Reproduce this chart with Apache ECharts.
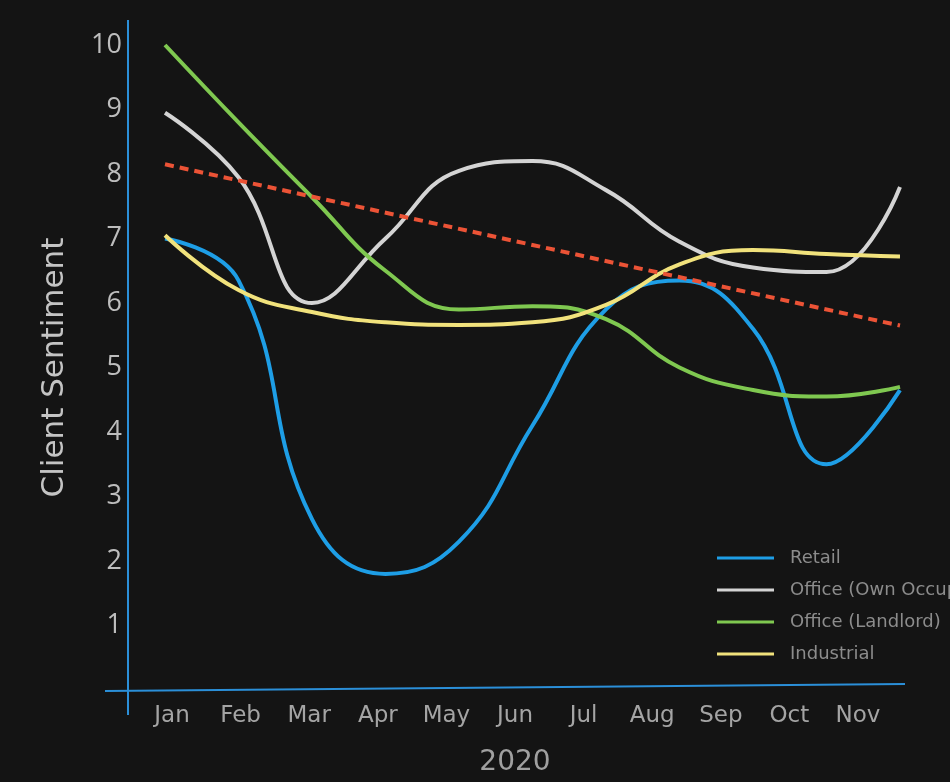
<!DOCTYPE html>
<html>
<head>
<meta charset="utf-8">
<style>
  html, body { margin: 0; padding: 0; background: #141414; }
  #chart { width: 950px; height: 782px; }
</style>
<script src="https://cdn.jsdelivr.net/npm/echarts@6/dist/echarts.min.js"></script>
</head>
<body>
<div id="chart"></div>
<script>
// Monthly client sentiment scores, 2020
const months = ['Jan', 'Feb', 'Mar', 'Apr', 'May', 'Jun', 'Jul', 'Aug', 'Sep', 'Oct', 'Nov'];
const yTicks = [0, 1, 2, 3, 4, 5, 6, 7, 8, 9, 10];

const retail         = [7.0, 6.35, 2.65, 1.8, 2.3, 4.1, 5.9, 6.35, 5.6, 3.5, 4.65];
const officeOwnOcc   = [8.95, 7.95, 6.0, 7.0, 8.05, 8.2, 7.75, 6.95, 6.55, 6.48, 7.8];
const officeLandlord = [10.0, 8.8, 7.64, 6.5, 5.9, 5.95, 5.75, 5.0, 4.65, 4.55, 4.7];
const industrial     = [7.05, 6.2, 5.86, 5.7, 5.66, 5.7, 5.97, 6.6, 6.82, 6.76, 6.72];
// Trend line: start and end values only
const trend          = [8.15, null, null, null, null, null, null, null, null, null, 5.65];

const seriesNames = ['Retail', 'Office (Own Occupier)', 'Office (Landlord)', 'Industrial'];
const seriesData  = [retail, officeOwnOcc, officeLandlord, industrial];
const seriesColors = ['#1e9ee6', '#d4d4d4', '#7fc850', '#f1e27c'];

const axisBlue = '#2b8fd8';
const labelFont = '"DejaVu Sans", "Open Sans", sans-serif';
const tickFont = '"Open Sans", "Noto Sans", sans-serif';

const chart = echarts.init(document.getElementById('chart'), null, { renderer: 'canvas' });

const lines = seriesNames.map((name, i) => ({
  name: name,
  type: 'line',
  xAxisIndex: 0,
  yAxisIndex: 0,
  smooth: 0.45,
  showSymbol: false,
  symbol: 'none',
  data: seriesData[i],
  lineStyle: { color: seriesColors[i], width: 4 },
  itemStyle: { color: seriesColors[i] },
  z: 3 + i
}));

lines.push({
  name: 'Trend',
  type: 'line',
  xAxisIndex: 0,
  yAxisIndex: 0,
  connectNulls: true,
  showSymbol: false,
  symbol: 'none',
  data: trend,
  lineStyle: { color: '#ec5336', width: 4, type: [9, 6] },
  z: 10
});

chart.setOption({
  backgroundColor: '#141414',
  animation: false,
  textStyle: { fontFamily: labelFont },
  grid: [
    // plotting area for the series
    { left: 165, right: 50, top: 45, bottom: 92 },
    // month labels row
    { left: 172, right: 92, top: 45, bottom: 92 }
  ],
  xAxis: [
    {
      gridIndex: 0,
      type: 'category',
      data: months,
      boundaryGap: false,
      axisLine: { show: false },
      axisTick: { show: false },
      axisLabel: { show: false },
      splitLine: { show: false }
    },
    {
      gridIndex: 1,
      type: 'category',
      data: months,
      boundaryGap: false,
      axisLine: { show: false },
      axisTick: { show: false },
      axisLabel: { color: '#a4a4a4', fontSize: 23, margin: 22, fontFamily: labelFont },
      splitLine: { show: false },
      name: '2020',
      nameLocation: 'middle',
      nameGap: 66,
      nameTextStyle: { color: '#a0a0a0', fontSize: 28, fontFamily: labelFont }
    }
  ],
  yAxis: [
    {
      gridIndex: 0,
      type: 'value',
      min: yTicks[0],
      max: yTicks[yTicks.length - 1],
      interval: 1,
      offset: 37,
      axisLine: { show: false },
      axisTick: { show: false },
      splitLine: { show: false },
      axisLabel: {
        color: '#bdbdbd',
        fontSize: 27,
        margin: 6,
        fontFamily: tickFont,
        formatter: v => (v === 0 ? '' : String(v))
      },
      name: 'Client Sentiment',
      nameLocation: 'middle',
      nameGap: 58,
      nameRotate: 90,
      nameTextStyle: { color: '#c4c4c4', fontSize: 31, fontFamily: labelFont }
    },
    {
      gridIndex: 1,
      type: 'value',
      show: false,
      min: 0,
      max: 10
    }
  ],
  legend: {
    data: seriesNames,
    orient: 'vertical',
    left: 712,
    top: 543,
    icon: 'rect',
    itemWidth: 57,
    itemHeight: 3,
    itemGap: 12,
    textStyle: { color: '#8c8c8c', fontSize: 18, lineHeight: 20, fontFamily: labelFont, padding: [0, 0, 0, 11] }
  },
  graphic: [
    // axis frame lines
    {
      type: 'line',
      shape: { x1: 128, y1: 20, x2: 128, y2: 715 },
      style: { stroke: axisBlue, lineWidth: 2 },
      z: 1
    },
    {
      type: 'line',
      shape: { x1: 105, y1: 691, x2: 905, y2: 684 },
      style: { stroke: axisBlue, lineWidth: 2 },
      z: 1
    }
  ],
  series: lines
});
</script>
</body>
</html>
